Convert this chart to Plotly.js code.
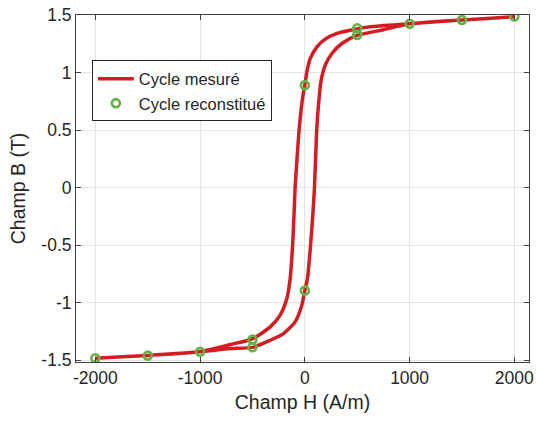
<!DOCTYPE html>
<html>
<head>
<meta charset="utf-8">
<script src="https://cdn.plot.ly/plotly-3.0.1.min.js"></script>
<style>html,body{margin:0;padding:0;background:#fff;}#chart{width:537px;height:425px;}</style>
</head>
<body>
<div id="chart"></div>
<script>
// Measured cycle: descending branch (H from +2000 to -2000)
var hDesc = [2000, 1500, 1000, 624, 433, 306, 194, 115, 51, 19, 0, -13, -38, -55, -75, -93, -105, -118, -140, -172, -236, -331, -500, -713, -1000, -1500, -2000];
var bDesc = [1.485, 1.457, 1.423, 1.397, 1.368, 1.34, 1.29, 1.223, 1.12, 1.005, 0.89, 0.83, 0.657, 0.5, 0.25, 0.0, -0.27, -0.52, -0.79, -0.965, -1.11, -1.212, -1.316, -1.365, -1.425, -1.46, -1.485];
// Measured cycle: ascending branch (H from -2000 to +2000)
var hAsc = [-2000, -1500, -1000, -713, -500, -331, -204, -93, -29, 0, 25, 52, 75, 92, 112, 130, 153, 194, 258, 353, 497, 750, 1000, 1500, 2000];
var bAsc = [-1.485, -1.46, -1.428, -1.4, -1.39, -1.328, -1.27, -1.168, -1.023, -0.893, -0.79, -0.53, -0.25, 0.0, 0.48, 0.716, 0.918, 1.063, 1.165, 1.252, 1.322, 1.372, 1.423, 1.457, 1.485];
// Reconstructed cycle points
var hRec = [-2000, -1500, -1000, -500, -500, 0, 0, 500, 500, 1000, 1500, 2000];
var bRec = [-1.484, -1.462, -1.428, -1.322, -1.389, 0.89, -0.896, 1.385, 1.327, 1.423, 1.457, 1.487];
var xTicks = [-2000, -1000, 0, 1000, 2000];
var yTicks = [-1.5, -1, -0.5, 0, 0.5, 1, 1.5];

var hLoop = hDesc.concat(hAsc.slice(1));
var bLoop = bDesc.concat(bAsc.slice(1));

var red = '#d41c22';
var green = '#62b245';
var txt = '#262626';
var fam = 'Liberation Sans, Arial, sans-serif';

var traces = [
  {x: hLoop, y: bLoop, mode: 'lines', name: 'Cycle mesuré',
   line: {color: red, width: 3.5, shape: 'spline', smoothing: 0.6}},
  {x: hRec, y: bRec, mode: 'markers', name: 'Cycle reconstitué',
   marker: {symbol: 'circle-open', size: 8, color: green, line: {color: green, width: 2.6}}}
];

var axisCommon = {
  showgrid: true, gridcolor: '#e3e3e3', gridwidth: 1,
  zeroline: false, showline: true, linecolor: '#404040', linewidth: 1,
  mirror: 'ticks', ticks: 'inside', ticklen: 5, tickcolor: '#404040',
  tickfont: {family: fam, size: 17.5, color: txt}
};

var layout = {
  width: 537, height: 425,
  margin: {l: 76, r: 8, t: 15, b: 63},
  paper_bgcolor: '#fff', plot_bgcolor: '#fff',
  font: {family: fam, color: txt},
  showlegend: true,
  legend: {x: 0.035, y: 0.869, xanchor: 'left', yanchor: 'top',
           bgcolor: '#fff', bordercolor: '#262626', borderwidth: 1,
           itemwidth: 36, tracegroupgap: 0,
           font: {family: fam, size: 16.5, color: txt}},
  xaxis: Object.assign({}, axisCommon, {
    range: [-2185, 2140], tickvals: xTicks, ticktext: xTicks.map(String),
    title: {text: 'Champ H (A/m)', font: {family: fam, size: 19.5, color: txt}, standoff: 8}
  }),
  yaxis: Object.assign({}, axisCommon, {
    range: [-1.517, 1.5], tickvals: yTicks, ticktext: yTicks.map(String),
    title: {text: 'Champ B (T)', font: {family: fam, size: 19.5, color: txt}, standoff: 10}
  })
};

Plotly.newPlot('chart', traces, layout, {displayModeBar: false, staticPlot: true});
</script>
</body>
</html>
